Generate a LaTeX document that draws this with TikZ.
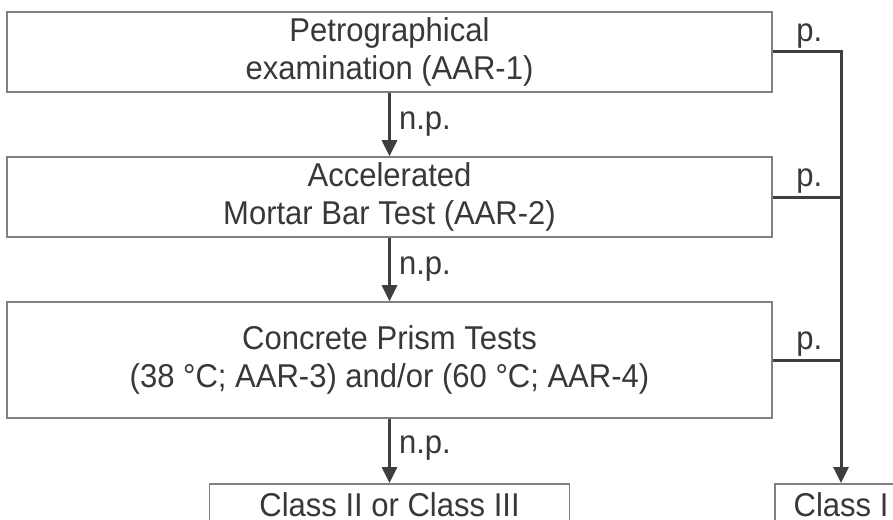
\documentclass[tikz,border=0pt]{standalone}
\usepackage{fontspec}
\setmainfont{Liberation Sans}[FakeStretch=0.94]
\usepackage{tikz}
\usetikzlibrary{%
arrows.meta,%
positioning}

\definecolor{boxgray}{RGB}{128,128,128}
\definecolor{linegray}{RGB}{62,62,62}
\definecolor{textgray}{RGB}{56,56,56}

\begin{document}
\begin{tikzpicture}[x=1pt,y=-1pt,
    font=\fontsize{33}{38}\selectfont,
    testbox/.style={draw=boxgray,line width=1.6pt,text=textgray,align=center,
        minimum width=765pt,minimum height=80pt},
    classbox/.style={draw=boxgray,line width=1.6pt,text=textgray,anchor=north,
        inner xsep=6pt,inner ysep=9pt},
    np/.style={anchor=west,inner sep=0pt,xshift=8pt,text=textgray},
    pl/.style={anchor=south,inner sep=0pt,xshift=2.5pt,yshift=2pt,text=textgray}]
\useasboundingbox (0,0) rectangle (893,519);
\fill[white] (0,0) rectangle (893,519);
% test sequence
\node[testbox] (petro) at (389.5,52) {Petrographical\\examination (AAR-1)};
\node[testbox] (ambt) at (389.5,197) {Accelerated\\Mortar Bar Test (AAR-2)};
\node[testbox,minimum height=116pt] (cpt) at (389.5,360)
    {Concrete Prism Tests\\(38 °C; AAR-3) and/or (60 °C; AAR-4)};
% outcomes
\node[classbox,minimum width=360pt] (classtwo) at (389.5,483) {Class II or Class III};
\node[classbox,minimum width=132pt] (classone) at (841,483) {Class I};
\coordinate (rail) at (841,52);
\begin{scope}[draw=linegray,line width=3pt,-{Triangle[length=16pt,width=15pt]}]
    \draw (petro) -- node[np,pos=0.5] {n.p.} (ambt);
    \draw (ambt) -- node[np,pos=0.5] {n.p.} (cpt);
    \draw (cpt) -- node[np,pos=0.45] {n.p.} (classtwo);
    \draw (petro.east) -- node[pl] {p.} (rail) -- (classone);
%    branches into the rail
    \draw[-] (ambt.east) -- node[pl] {p.} (ambt.east -| rail);
    \draw[-] (cpt.east) -- node[pl] {p.} (cpt.east -| rail);
\end{scope}
\end{tikzpicture}
\end{document}
